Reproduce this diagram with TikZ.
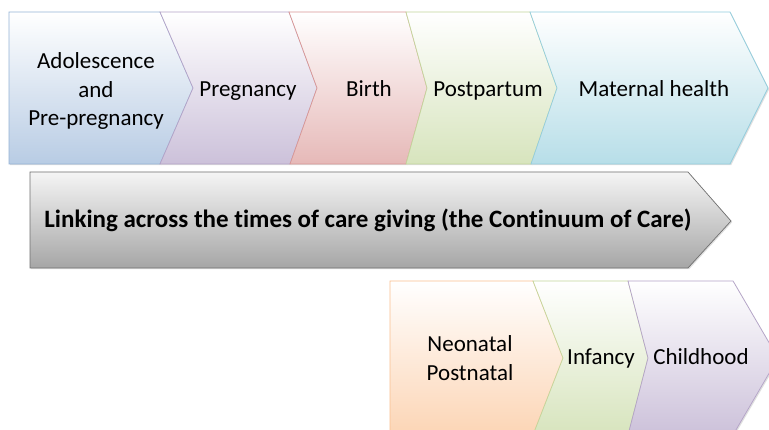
\documentclass[tikz,border=0pt]{standalone}
\usepackage{fontspec}
\setmainfont[Ligatures=NoCommon]{Carlito}
\usetikzlibrary{shadows}
\definecolor{blueF}{HTML}{B8CCE4}\definecolor{blueD}{HTML}{95B3D7}
\definecolor{purpF}{HTML}{CCC1DA}\definecolor{purpD}{HTML}{B3A2C7}
\definecolor{redF}{HTML}{E6B9B8}\definecolor{redD}{HTML}{D99694}
\definecolor{grnF}{HTML}{D7E4BD}\definecolor{grnD}{HTML}{C3D69B}
\definecolor{aquaF}{HTML}{B7DEE8}\definecolor{aquaD}{HTML}{93CDDD}
\definecolor{orgF}{HTML}{FCD5B5}\definecolor{orgD}{HTML}{FAC090}
\definecolor{grayF}{HTML}{A6A6A6}\definecolor{grayD}{HTML}{6F6F6F}
\begin{document}
\begin{tikzpicture}[x=1pt,y=-1pt,
  seg/.style n args={2}{line width=0.7pt, top color=white, bottom color=#1, draw=#2,
     drop shadow={shadow xshift=1.2pt, shadow yshift=-1.2pt, opacity=0.25}},
  lbl/.style={font=\fontsize{23}{28.5}\selectfont, align=center, text=black, inner sep=0pt},
  blbl/.style={font=\fontsize{25}{30}\selectfont\bfseries, align=center, text=black, inner sep=0pt}]
\clip (0,0) rectangle (769,430);
\fill[white] (0,0) rectangle (769,430);
% top row
\path[seg={blueF}{blueD}] (9,12) -- (160,12) -- (193,88) -- (160,164) -- (9,164) -- cycle;
\path[seg={purpF}{purpD}] (160,12) -- (289,12) -- (317,88) -- (290,164) -- (160,164) -- (193,88) -- cycle;
\path[seg={redF}{redD}] (289,12) -- (406,12) -- (427,88) -- (406,164) -- (290,164) -- (317,88) -- cycle;
\path[seg={grnF}{grnD}] (406,12) -- (530,12) -- (557,88) -- (531,164) -- (406,164) -- (427,88) -- cycle;
\path[seg={aquaF}{aquaD}] (530,12) -- (730,12) -- (768,88) -- (730,164) -- (531,164) -- (557,88) -- cycle;
% middle arrow
\path[seg={grayF}{grayD}, top color=white!96!black] (30,172) -- (688,172) -- (731,221) -- (688,268) -- (30,268) -- cycle;
% bottom row
\path[seg={orgF}{orgD}] (390,281) -- (533,281) -- (563,358) -- (533,435) -- (390,435) -- cycle;
\path[seg={grnF}{grnD}] (533,281) -- (628,281) -- (648,358) -- (628,435) -- (533,435) -- (563,358) -- cycle;
\path[seg={purpF}{purpD}] (628,281) -- (733,281) -- (778,358) -- (733,435) -- (628,435) -- (648,358) -- cycle;
% labels
\node[lbl] (adol) at (96,91) {Adolescence\\and\\Pre-pregnancy};
\node[lbl, anchor=base] (preg) at (248,97) {Pregnancy};
\node[lbl, anchor=base] (birth) at (369,97) {Birth};
\node[lbl, anchor=base] (post) at (488,97) {Postpartum};
\node[lbl, anchor=base] (mat) at (654,97) {Maternal health};
\node[blbl, anchor=base] (link) at (368,228) {Linking across the times of care giving (the Continuum of Care)};
\node[lbl] (neo) at (470,358) {Neonatal\\Postnatal};
\node[lbl, anchor=base] (inf) at (601,365) {Infancy};
\node[lbl, anchor=base] (child) at (701,365) {Childhood};
\end{tikzpicture}
\end{document}
